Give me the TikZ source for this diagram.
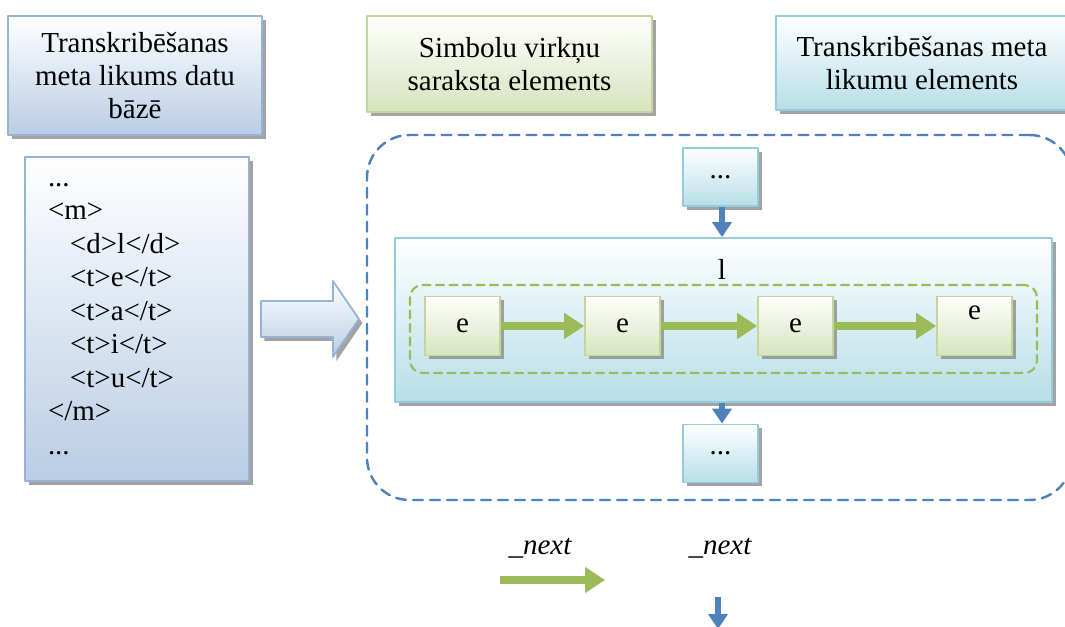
\documentclass[tikz,border=0pt]{standalone}
\usepackage{fontspec}
\setmainfont{Liberation Serif}
\usetikzlibrary{arrows.meta, positioning, calc, shadows}

\definecolor{bluefill}{HTML}{B9CDE5}
\definecolor{blueline}{HTML}{95B3D7}
\definecolor{greenfill}{HTML}{D7E4BD}
\definecolor{greenline}{HTML}{C3D69B}
\definecolor{cyanfill}{HTML}{B7DEE8}
\definecolor{cyanline}{HTML}{93CDDD}
\definecolor{accblue}{HTML}{4F81BD}
\definecolor{accgreen}{HTML}{9BBB59}

\begin{document}
\begin{tikzpicture}[x=1cm, y=1cm, line cap=round, line join=round,
    txt/.style={font=\fontsize{16.5}{18.7}\selectfont},
    box/.style={txt, draw, line width=1pt, align=center, inner sep=2pt,
      drop shadow={shadow xshift=0.07cm, shadow yshift=-0.08cm,
        fill=black!45, opacity=0.8}},
    bluebox/.style={box, draw=blueline, top color=white, bottom color=bluefill},
    greenbox/.style={box, draw=greenline, top color=white, bottom color=greenfill},
    cyanbox/.style={box, draw=cyanline, top color=white, bottom color=cyanfill},
    nextg/.style={-{Triangle[length=0.4cm, width=0.5cm]}, line width=4pt,
      draw=accgreen, line cap=butt},
    nextb/.style={-{Triangle[length=0.3cm, width=0.38cm]}, line width=3.3pt,
      draw=accblue, line cap=butt}]
  \useasboundingbox (0,0) rectangle (21.3,-12.54);
  \clip (0,0) rectangle (21.3,-12.54);

  % headings
  \node[bluebox, minimum width=5.08cm, minimum height=2.38cm] (dbtitle)
    at (2.70,-1.51) {Transkribēšanas\\meta likums datu\\bāzē};
  \node[greenbox, minimum width=5.70cm, minimum height=1.92cm] (strtitle)
    at (10.19,-1.28) {Simbolu virkņu\\saraksta elements};
  \node[cyanbox, minimum width=5.84cm, minimum height=1.88cm] (ruletitle)
    at (18.44,-1.26) {Transkribēšanas meta\\likumu elements};

  % the rule as stored
  \node[bluebox, minimum width=4.48cm, minimum height=6.48cm, text width=3.56cm,
    inner xsep=0.46cm, align=left, font=\fontsize{16.5}{19.1}\selectfont] (db)
    at (2.74,-6.38)
    {...\\<m>\\\hspace*{0.44cm}<d>l</d>\\\hspace*{0.44cm}<t>e</t>\\
     \hspace*{0.44cm}<t>a</t>\\\hspace*{0.44cm}<t>i</t>\\
     \hspace*{0.44cm}<t>u</t>\\</m>\\...};
  \path[draw=blueline, line width=1pt, top color=white, bottom color=bluefill,
    drop shadow={shadow xshift=0.07cm, shadow yshift=-0.08cm, fill=black!45, opacity=0.8}]
    ($(db.east)+(0.22,0.36)$) -- ++(1.44,0) -- ++(0,0.40) -- ++(0.52,-0.76)
    -- ++(-0.52,-0.76) -- ++(0,0.40) -- ++(-1.44,0) -- cycle;

  % the rule as a list of elements
  \node[draw=accblue, line width=1.4pt, dash pattern=on 0.2cm off 0.14cm,
    rounded corners=0.85cm, minimum width=14.10cm, minimum height=7.30cm]
    (region) at (14.39,-6.35) {};
  \node[cyanbox, minimum width=1.5cm, minimum height=1.16cm] (prev)
    at (14.41,-3.54) {...};
  \node[cyanbox, minimum width=13.14cm, minimum height=3.28cm] (rule)
    at (14.47,-6.40) {};
  \node[txt] (rulename) at (14.44,-5.38) {l};
  \node[draw=accgreen, line width=1.2pt, dash pattern=on 0.16cm off 0.11cm,
    rounded corners=0.25cm, minimum width=12.54cm, minimum height=1.76cm]
    (chain) at (14.47,-6.58) {};
  \node[greenbox, minimum width=1.5cm, minimum height=1.18cm] (e1) at (9.25,-6.52) {e};
  \node[greenbox, minimum width=1.5cm, minimum height=1.18cm] (e2) at (12.45,-6.52) {e};
  \node[greenbox, minimum width=1.5cm, minimum height=1.18cm] (e3) at (15.91,-6.52) {e};
  \node[greenbox, minimum width=1.5cm, minimum height=1.18cm,
    label={[txt, yshift=0.26cm]center:e}] (e4) at (19.49,-6.52) {};
  \draw[nextg] (e1) -- (e2);
  \draw[nextg] (e2) -- (e3);
  \draw[nextg] (e3) -- (e4);
  \node[cyanbox, minimum width=1.5cm, minimum height=1.16cm] (next)
    at (14.41,-9.07) {...};
  \draw[nextb] ($(prev.south)+(0.03,0)$) -- ($(prev.south |- rule.north)+(0.03,0)$);
  \draw[nextb] ($(next.north |- rule.south)+(0.03,0)$) -- ($(next.north)+(0.03,0)$);

  % legend
  \node[txt, font=\fontsize{16.5}{18.7}\selectfont\itshape] (lgreen) at (10.8,-10.96) {\_next};
  \node[txt, font=\fontsize{16.5}{18.7}\selectfont\itshape] (lblue) at (14.4,-10.96) {\_next};
  \coordinate (ga) at (10.0,-11.6);
  \coordinate (gb) at (12.1,-11.6);
  \draw[nextg] (ga) -- (gb);
  \coordinate (ba) at (14.36,-11.94);
  \coordinate (bb) at (14.36,-12.58);
  \draw[nextb] (ba) -- (bb);
\end{tikzpicture}
\end{document}
